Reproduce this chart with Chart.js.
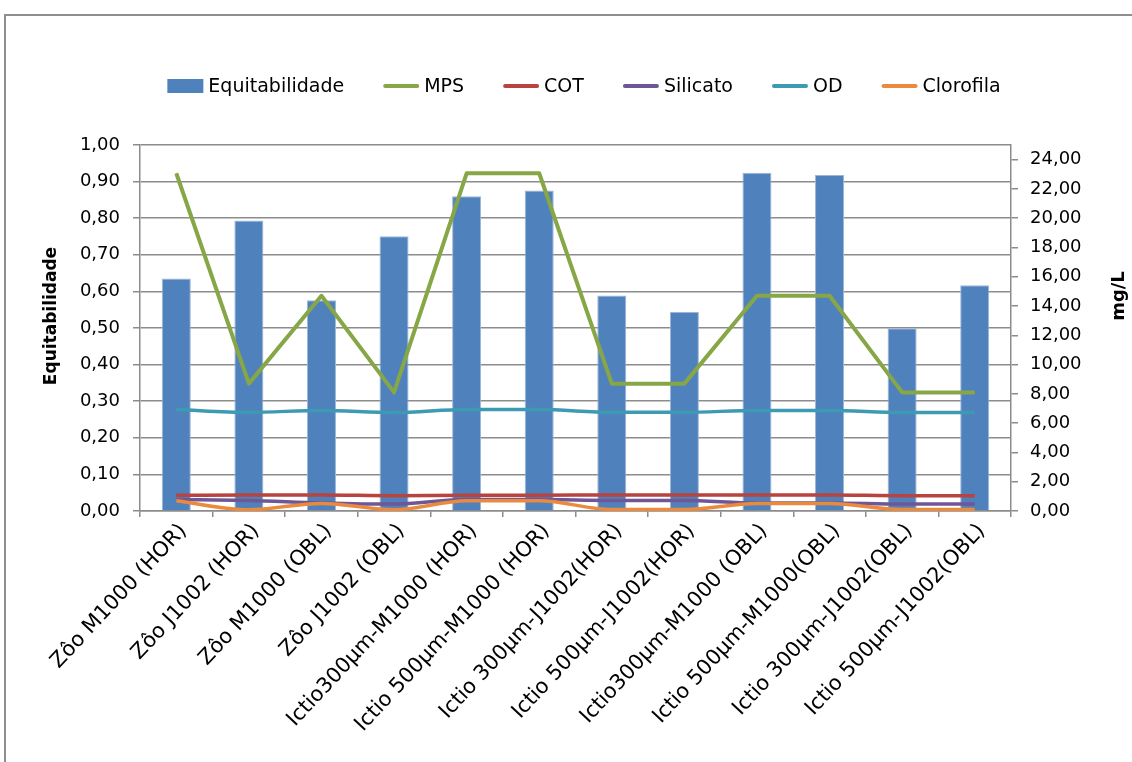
<!DOCTYPE html>
<html>
<head>
<meta charset="utf-8">
<script src="https://cdn.jsdelivr.net/npm/chart.js@4.4.1/dist/chart.umd.min.js"></script>
<style>
  html, body { margin: 0; padding: 0; background: #fff; overflow: hidden; }
  #wrap { position: relative; width: 1132px; height: 762px; }
  #frame { position: absolute; left: 4px; top: 14px; width: 1200px; height: 800px;
           border-left: 2px solid #8e8e8e; border-top: 2px solid #8e8e8e; }
  canvas { position: absolute; left: 0; top: 0; }
</style>
</head>
<body>
<div id="wrap">
  <div id="frame"></div>
  <canvas id="chart" width="1132" height="762"></canvas>
</div>
<script>
// Sampling stations
const categories = [
  'Zôo M1000 (HOR)', 'Zôo J1002 (HOR)', 'Zôo M1000 (OBL)', 'Zôo J1002 (OBL)',
  'Ictio300µm-M1000 (HOR)', 'Ictio 500µm-M1000 (HOR)', 'Ictio 300µm-J1002(HOR)', 'Ictio 500µm-J1002(HOR)',
  'Ictio300µm-M1000 (OBL)', 'Ictio 500µm-M1000(OBL)', 'Ictio 300µm-J1002(OBL)', 'Ictio 500µm-J1002(OBL)'
];

// Evenness index (left axis)
const equitabilidade = [0.635, 0.794, 0.576, 0.751, 0.860, 0.876, 0.589, 0.544, 0.924, 0.918, 0.499, 0.617];

// Environmental variables, mg/L (right axis)
const mps       = [23.07, 8.70, 14.70, 8.10, 23.07, 23.07, 8.70, 8.70, 14.70, 14.70, 8.10, 8.10];
const cot       = [1.07, 1.10, 1.10, 1.05, 1.07, 1.07, 1.10, 1.10, 1.10, 1.10, 1.05, 1.05];
const silicato  = [0.78, 0.72, 0.55, 0.47, 0.78, 0.78, 0.72, 0.72, 0.55, 0.55, 0.47, 0.47];
const od        = [6.93, 6.74, 6.87, 6.72, 6.93, 6.93, 6.74, 6.74, 6.87, 6.87, 6.72, 6.72];
const clorofila = [0.70, 0.08, 0.52, 0.08, 0.70, 0.70, 0.10, 0.10, 0.52, 0.52, 0.10, 0.10];

// Tick values for both value axes
const leftTicks  = [0, 0.1, 0.2, 0.3, 0.4, 0.5, 0.6, 0.7, 0.8, 0.9, 1.0];
const rightTicks = [0, 2, 4, 6, 8, 10, 12, 14, 16, 18, 20, 22, 24];
const leftRange  = { min: 0, max: 1 };
const rightRange = { min: 0, max: 25 };

const FONT = 'DejaVu Sans';
const GRID = '#8c8c8c';
const fmt = v => Number(v).toFixed(2).replace('.', ',');

Chart.defaults.font.family = FONT;
Chart.defaults.color = '#000';

// Legend row and rotated axis titles drawn on top of the chart
const decorations = {
  id: 'decorations',
  afterDraw(chart) {
    const ctx = chart.ctx;
    ctx.save();
    ctx.font = '19px "' + FONT + '"';
    ctx.textBaseline = 'middle';
    ctx.textAlign = 'left';
    const items = chart.data.datasets.map(ds => ({
      label: ds.label,
      bar: ds.type === 'bar',
      color: ds.type === 'bar' ? ds.backgroundColor : ds.borderColor,
      w: ctx.measureText(ds.label).width
    }));
    const sw = 36, gapText = 5, gapItem = 39, cy = 86, cx = 584;
    const total = items.reduce((s, it) => s + sw + gapText + it.w, 0) + gapItem * (items.length - 1);
    let x = cx - total / 2;
    items.forEach(it => {
      if (it.bar) {
        ctx.fillStyle = it.color;
        ctx.fillRect(x, cy - 7, sw, 14);
      } else {
        ctx.strokeStyle = it.color;
        ctx.lineWidth = 4;
        ctx.lineCap = 'round';
        ctx.beginPath();
        ctx.moveTo(x + 2, cy);
        ctx.lineTo(x + sw - 2, cy);
        ctx.stroke();
      }
      ctx.fillStyle = '#000';
      ctx.fillText(it.label, x + sw + gapText, cy + 1);
      x += sw + gapText + it.w + gapItem;
    });

    ctx.font = 'bold 17px "' + FONT + '"';
    ctx.textAlign = 'center';
    ctx.textBaseline = 'middle';
    ctx.translate(52, 316);
    ctx.rotate(-Math.PI / 2);
    ctx.fillText('Equitabilidade', 0, 0);
    ctx.setTransform(1, 0, 0, 1, 0, 0);
    ctx.font = 'bold 18px "' + FONT + '"';
    ctx.translate(1119, 296);
    ctx.rotate(-Math.PI / 2);
    ctx.fillText('mg/L', 0, 0);
    ctx.restore();
  }
};

const lineSet = (label, data, color, order, smooth) => ({
  type: 'line', label, data, yAxisID: 'y1', order,
  borderColor: color, backgroundColor: color, borderWidth: smooth ? 3.5 : 4,
  pointRadius: 0, pointHoverRadius: 0, fill: false,
  cubicInterpolationMode: smooth ? 'monotone' : 'default', tension: 0,
  borderJoinStyle: 'round'
});

new Chart(document.getElementById('chart'), {
  data: {
    labels: categories,
    datasets: [
      { type: 'bar', label: 'Equitabilidade', data: equitabilidade, yAxisID: 'y', order: 10,
        backgroundColor: '#4F81BD', borderColor: '#9db6d8', borderWidth: 1,
        barPercentage: 0.4, categoryPercentage: 1 },
      lineSet('MPS', mps, '#87A746', 6, false),
      lineSet('COT', cot, '#B8433F', 5, true),
      lineSet('Silicato', silicato, '#6F5797', 4, true),
      lineSet('OD', od, '#3C9AB2', 3, true),
      lineSet('Clorofila', clorofila, '#EB8A3C', 2, true)
    ]
  },
  options: {
    responsive: false,
    animation: false,
    devicePixelRatio: 1,
    layout: { padding: { top: 145, left: 0, right: 0, bottom: 0 } },
    plugins: { legend: { display: false }, tooltip: { enabled: false } },
    scales: {
      x: {
        type: 'category',
        offset: true,
        grid: { offset: true, drawOnChartArea: false, drawTicks: true, tickLength: 6, color: GRID, lineWidth: 1.5 },
        border: { color: GRID, width: 1.5 },
        ticks: { minRotation: 47, maxRotation: 47, autoSkip: false, font: { size: 21 }, padding: 2,
                 labelOffset: 7, color: '#000' },
        afterFit: s => { s.height = 251; }
      },
      y: {
        position: 'left',
        min: leftRange.min, max: leftRange.max,
        ticks: { callback: v => fmt(v), font: { size: 18 }, padding: 13, color: '#000' },
        afterBuildTicks: s => { s.ticks = leftTicks.map(v => ({ value: v })); },
        grid: { color: GRID, lineWidth: 1.5, tickLength: 7, drawTicks: true },
        border: { color: GRID, width: 1.5 },
        afterFit: s => { s.width = 140; }
      },
      y1: {
        position: 'right',
        min: rightRange.min, max: rightRange.max,
        ticks: { callback: v => fmt(v), font: { size: 18 }, padding: 12, color: '#000' },
        afterBuildTicks: s => { s.ticks = rightTicks.map(v => ({ value: v })); },
        grid: { drawOnChartArea: false, color: GRID, lineWidth: 1.5, tickLength: 7, drawTicks: true },
        border: { color: GRID, width: 1.5 },
        afterFit: s => { s.width = 121; }
      }
    }
  },
  plugins: [decorations]
});
</script>
</body>
</html>
